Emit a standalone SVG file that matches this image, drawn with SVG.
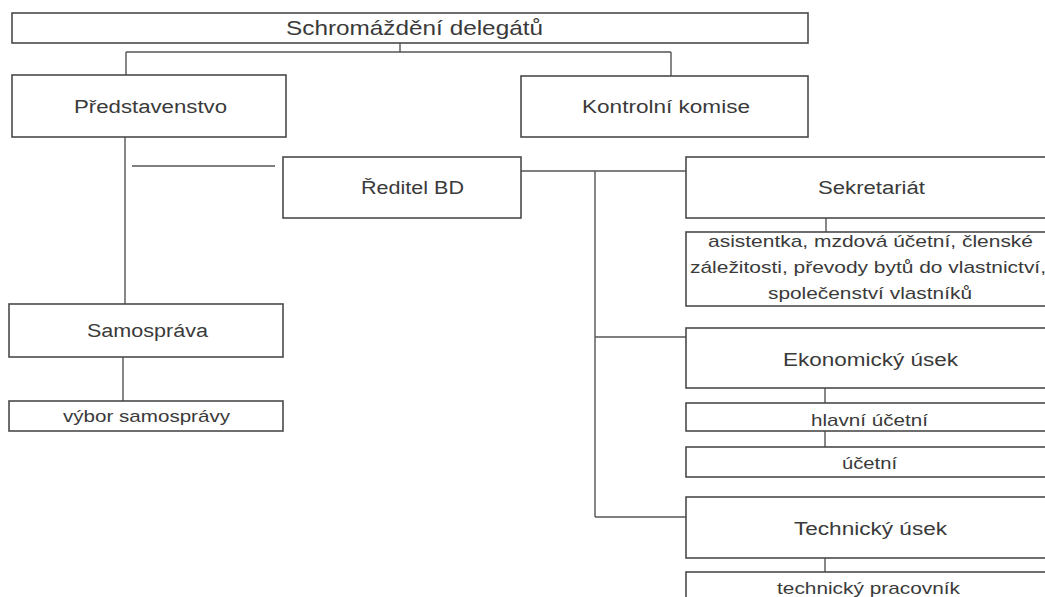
<svg xmlns="http://www.w3.org/2000/svg" width="1045" height="597" viewBox="0 0 1045 597">
<style>
  .box { fill: #ffffff; stroke: #4a4a4a; stroke-width: 1.6; }
  .ln { fill: none; stroke: #555555; stroke-width: 1.4; }
  text { font-family: "Liberation Sans", Arial, sans-serif; fill: #3a3a3a; text-anchor: middle; }
  .t1 { font-size: 21px; }
  .t2 { font-size: 18px; }
  .t3 { font-size: 17px; }
</style>
<rect width="1045" height="597" fill="#ffffff"/>
<g id="connectors">
  <path class="ln" d="M400,43 V52 M126,52 H671 M126,52 V75 M671,52 V76"/>
  <path class="ln" d="M125,137 V304 M132,166 H275 M123,357 V401"/>
  <path class="ln" d="M521,171 H686 M595,171 V517 M595,337 H686 M595,517 H686"/>
  <path class="ln" d="M826,218 V232 M825,388 V403 M825,431 V447 M825,558 V572"/>
</g>
<g id="schromazdeni">
  <rect class="box" x="12" y="13" width="796" height="30"/>
  <text class="t1" x="414.5" y="34.5" textLength="257" lengthAdjust="spacingAndGlyphs">Schromáždění delegátů</text>
</g>
<g id="predstavenstvo">
  <rect class="box" x="12" y="75" width="274" height="62"/>
  <text class="t2" x="150.5" y="112.5" textLength="153" lengthAdjust="spacingAndGlyphs">Představenstvo</text>
</g>
<g id="kontrolni-komise">
  <rect class="box" x="521" y="76" width="287" height="61"/>
  <text class="t2" x="666" y="112.5" textLength="168" lengthAdjust="spacingAndGlyphs">Kontrolní komise</text>
</g>
<g id="reditel">
  <rect class="box" x="283" y="157" width="238" height="61"/>
  <text class="t2" x="412.5" y="193.5" textLength="103" lengthAdjust="spacingAndGlyphs">Ředitel BD</text>
</g>
<g id="samosprava">
  <rect class="box" x="9" y="304" width="274" height="53"/>
  <text class="t2" x="147.5" y="336.5" textLength="121" lengthAdjust="spacingAndGlyphs">Samospráva</text>
</g>
<g id="vybor-samospravy">
  <rect class="box" x="9" y="401" width="274" height="30"/>
  <text class="t3" x="146.5" y="422" textLength="167" lengthAdjust="spacingAndGlyphs">výbor samosprávy</text>
</g>
<g id="sekretariat">
  <rect class="box" x="686" y="157" width="368" height="61"/>
  <text class="t2" x="871.5" y="194" textLength="107" lengthAdjust="spacingAndGlyphs">Sekretariát</text>
</g>
<g id="asistentka">
  <rect class="box" x="686" y="232" width="368" height="74"/>
  <text class="t3" x="870.5" y="247" textLength="325" lengthAdjust="spacingAndGlyphs">asistentka, mzdová účetní, členské</text>
  <text class="t3" x="868" y="273" textLength="356" lengthAdjust="spacingAndGlyphs">záležitosti, převody bytů do vlastnictví,</text>
  <text class="t3" x="870" y="299" textLength="204" lengthAdjust="spacingAndGlyphs">společenství vlastníků</text>
</g>
<g id="ekonomicky-usek">
  <rect class="box" x="686" y="328" width="368" height="60"/>
  <text class="t2" x="870.5" y="366" textLength="175" lengthAdjust="spacingAndGlyphs">Ekonomický úsek</text>
</g>
<g id="hlavni-ucetni">
  <rect class="box" x="686" y="403" width="368" height="28"/>
  <text class="t3" x="869.5" y="425.5" textLength="117" lengthAdjust="spacingAndGlyphs">hlavní účetní</text>
</g>
<g id="ucetni">
  <rect class="box" x="686" y="447" width="368" height="30"/>
  <text class="t3" x="869.5" y="468.5" textLength="55" lengthAdjust="spacingAndGlyphs">účetní</text>
</g>
<g id="technicky-usek">
  <rect class="box" x="686" y="497" width="368" height="61"/>
  <text class="t2" x="870.5" y="535" textLength="153" lengthAdjust="spacingAndGlyphs">Technický úsek</text>
</g>
<g id="technicky-pracovnik">
  <rect class="box" x="686" y="572" width="368" height="40"/>
  <text class="t3" x="868.5" y="594" textLength="183" lengthAdjust="spacingAndGlyphs">technický pracovník</text>
</g>
</svg>
